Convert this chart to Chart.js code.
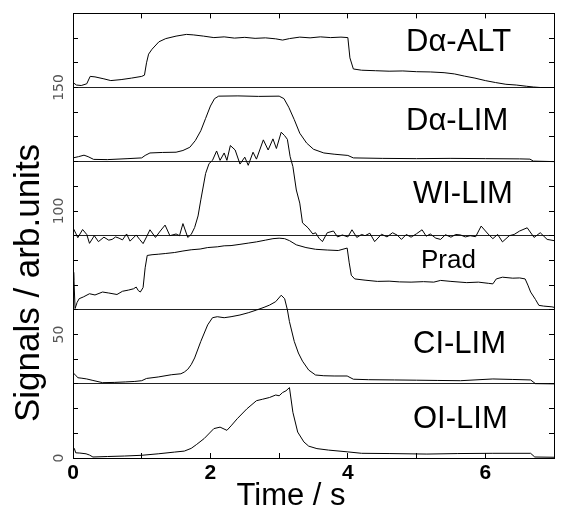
<!DOCTYPE html>
<html>
<head>
<meta charset="utf-8">
<script src="https://cdn.jsdelivr.net/npm/chart.js@4.4.1/dist/chart.umd.min.js"></script>
<style>
  html, body { margin: 0; padding: 0; background: #fff; }
</style>
</head>
<body>
<canvas id="signalsChart" width="562" height="510"></canvas>
<script>
// Signal traces (time in s, signal in arb. units, offset baselines)
var daAltT = [0, 0.05, 0.12, 0.2, 0.25, 0.32, 0.45, 0.55, 0.7, 0.85, 1.0, 1.04, 1.07, 1.1, 1.15, 1.25, 1.35, 1.5, 1.65, 1.75, 1.9, 2.05, 2.2, 2.35, 2.5, 2.65, 2.8, 2.95, 3.05, 3.15, 3.3, 3.45, 3.6, 3.75, 3.9, 4.0, 4.03, 4.08, 4.2, 4.4, 4.6, 4.8, 5.0, 5.2, 5.4, 5.55, 5.7, 5.85, 6.0, 6.15, 6.3, 6.45, 6.6, 6.7, 6.8, 7.0];
var daAltV = [152, 151, 150.8, 151.5, 154.5, 154.3, 153.5, 152.8, 153.2, 153.8, 154.5, 155, 160, 163.5, 165.5, 168.5, 169.8, 170.8, 171.5, 171.3, 170.8, 170.2, 170.5, 170, 170.3, 169.9, 170.1, 169.7, 169.2, 169.8, 170.4, 170.1, 170.5, 170.2, 170.4, 170.2, 162, 157.5, 157, 156.8, 156.6, 156.7, 156.4, 156.3, 156, 155.5, 154.6, 153.8, 152.8, 152, 151.3, 151, 150.5, 150.2, 150, 150];

var daLimT = [0, 0.08, 0.16, 0.22, 0.3, 0.5, 0.8, 1.0, 1.05, 1.12, 1.3, 1.5, 1.6, 1.7, 1.78, 1.86, 1.93, 2.0, 2.06, 2.12, 2.4, 2.7, 3.0, 3.07, 3.14, 3.22, 3.3, 3.4, 3.5, 3.65, 3.8, 4.0, 4.08, 4.5, 5.0, 5.5, 6.0, 6.5, 6.65, 6.7, 7.0];
var daLimV = [121.5, 122, 122.6, 122, 120.9, 120.8, 121.2, 121.5, 122.5, 123.5, 123.7, 123.8, 124.5, 125.8, 128.5, 132.5, 137.5, 142.5, 145.5, 146.5, 146.6, 146.4, 146.5, 145.5, 142, 137, 131.5, 127.5, 125, 123.5, 123, 122.5, 121.5, 121.3, 121.2, 121.3, 121.2, 121.1, 121, 120.2, 120];

var wiLimT = [0, 0.04, 0.07, 0.14, 0.2, 0.24, 0.31, 0.37, 0.45, 0.52, 0.57, 0.62, 0.67, 0.72, 0.78, 0.83, 0.92, 0.97, 1.02, 1.07, 1.12, 1.2, 1.27, 1.34, 1.41, 1.5, 1.55, 1.6, 1.67, 1.72, 1.77, 1.82, 1.86, 1.93, 1.98, 2.03, 2.09, 2.14, 2.2, 2.24, 2.29, 2.36, 2.43, 2.5, 2.55, 2.62, 2.67, 2.77, 2.84, 2.91, 2.96, 3.03, 3.08, 3.12, 3.16, 3.2, 3.25, 3.3, 3.34, 3.42, 3.49, 3.53, 3.58, 3.63, 3.7, 3.79, 3.85, 3.92, 4.0, 4.06, 4.13, 4.2, 4.25, 4.32, 4.39, 4.49, 4.57, 4.65, 4.72, 4.78, 4.85, 4.92, 5.0, 5.08, 5.14, 5.2, 5.28, 5.35, 5.42, 5.5, 5.57, 5.64, 5.71, 5.78, 5.86, 5.94, 6.04, 6.11, 6.18, 6.25, 6.35, 6.42, 6.5, 6.61, 6.71, 6.8, 6.9, 7.0];
var wiLimV = [93.2, 91, 89.2, 92.5, 90.5, 86.9, 90, 87.6, 89.4, 88.2, 88.5, 89.5, 89, 88.3, 90.7, 87.8, 90.3, 88.5, 86.8, 89.5, 92.4, 89.3, 91.9, 94.3, 90, 90.7, 90, 94.9, 89.3, 90.5, 93.3, 98, 104.5, 115.2, 119.2, 120.5, 124.3, 120.5, 123.5, 120.5, 126.5, 124.7, 119, 121.8, 118.5, 123.8, 121, 128.8, 124.7, 129.2, 125.3, 131.9, 130.5, 129, 122, 118, 108.5, 103.2, 95.2, 93.2, 90.7, 91.2, 89, 87.6, 91.2, 91.9, 89.5, 90.3, 89.5, 92.4, 89.3, 90.5, 90, 91, 87.6, 90.6, 89.5, 91.2, 90.2, 88.5, 90.5, 89.4, 90.8, 92.4, 89.8, 90.7, 89, 88.5, 90.4, 89.4, 90.5, 90.3, 89.5, 90, 89.6, 93.9, 90.7, 88.8, 90.5, 87.5, 90, 90.5, 91.9, 93.2, 89.3, 91.2, 88.5, 88];

var pradT = [0, 0.01, 0.03, 0.06, 0.09, 0.15, 0.24, 0.32, 0.43, 0.52, 0.64, 0.72, 0.81, 0.88, 0.92, 0.95, 0.98, 1.02, 1.05, 1.08, 1.15, 1.24, 1.35, 1.48, 1.6, 1.72, 1.85, 1.96, 2.1, 2.2, 2.3, 2.43, 2.55, 2.67, 2.8, 2.91, 3.0, 3.08, 3.15, 3.25, 3.39, 3.53, 3.7, 3.86, 3.99, 4.02, 4.05, 4.1, 4.25, 4.43, 4.6, 4.75, 4.92, 5.1, 5.25, 5.35, 5.5, 5.73, 5.9, 6.05, 6.11, 6.16, 6.25, 6.4, 6.5, 6.58, 6.62, 6.66, 6.73, 6.78, 6.85, 6.97, 7.0];
var pradV = [72, 75.2, 60.5, 63, 64.5, 65.2, 66.5, 66, 67.2, 66.8, 66.2, 67.5, 68, 68.5, 69.2, 67.8, 67.2, 69, 77, 82, 82.3, 82.5, 82.8, 83.2, 83.8, 84.3, 84.6, 85.2, 85.5, 85.9, 86, 86.5, 87, 87.5, 88.2, 88.8, 89, 88.8, 88, 86.3, 85.2, 84.5, 84.2, 84, 85, 79, 74, 72.5, 72, 71.5, 71.6, 71.3, 71.2, 71.4, 71.2, 71.9, 71.5, 71, 71.2, 70.7, 70.5, 72.5, 73.2, 72.8, 72.9, 72.5, 70, 67.2, 64.2, 61.8, 61.5, 61.2, 61];

var ciLimT = [0, 0.04, 0.07, 0.13, 0.2, 0.29, 0.43, 0.6, 0.76, 0.9, 1.0, 1.07, 1.24, 1.43, 1.57, 1.62, 1.67, 1.72, 1.77, 1.86, 1.96, 2.03, 2.1, 2.2, 2.3, 2.43, 2.55, 2.67, 2.78, 2.86, 2.95, 3.03, 3.08, 3.12, 3.15, 3.22, 3.28, 3.34, 3.43, 3.53, 3.65, 3.8, 3.99, 4.08, 4.3, 4.68, 5.0, 5.3, 5.64, 6.11, 6.4, 6.66, 6.73, 7.0];
var ciLimV = [34.5, 33.5, 32.5, 32.3, 32, 31.4, 30.5, 30.6, 30.8, 31, 31.3, 32.2, 32.8, 33.7, 34.1, 34.8, 35.9, 37.8, 40.5, 47.2, 53.9, 56.8, 57.2, 56.8, 57.2, 57.9, 58.8, 59.9, 61, 61.9, 63.3, 65.9, 64.5, 60, 55.2, 47.2, 42.5, 39.2, 35.6, 33.6, 33.3, 33.2, 33.2, 31.9, 31.7, 31.6, 31.5, 31.4, 31.3, 32, 31.8, 31.6, 30.1, 30];

var oiLimT = [0, 0.02, 0.04, 0.1, 0.19, 0.24, 0.29, 0.5, 0.75, 1.0, 1.24, 1.48, 1.62, 1.72, 1.8, 1.91, 2.05, 2.14, 2.24, 2.3, 2.39, 2.53, 2.67, 2.76, 2.86, 2.95, 3.0, 3.05, 3.1, 3.15, 3.2, 3.27, 3.36, 3.43, 3.55, 3.72, 3.99, 4.2, 4.6, 5.15, 5.6, 6.11, 6.66, 6.72, 7.0];
var oiLimV = [4.5, 3.8, 2.1, 2, 1.7, 1.2, 0.4, 0.6, 0.8, 1.1, 1.7, 2.4, 2.8, 3.9, 5.5, 7.9, 11.9, 12.5, 11.2, 13, 15.9, 19.9, 23.2, 23.8, 24.5, 25.5, 25.2, 26.5, 27.2, 28.5, 18.5, 10.5, 6.5, 4.8, 3.8, 3.2, 2.5, 1.9, 1.8, 1.6, 1.8, 1.9, 1.9, 0.4, 0.3];

var panelNames = ['D\u03b1-ALT', 'D\u03b1-LIM', 'WI-LIM', 'Prad', 'CI-LIM', 'OI-LIM'];
var panelBaselines = [150, 120, 90, 60, 30, 0];
var xTickLabels = [0, 2, 4, 6];
var yTickLabels = [0, 50, 100, 150];

function toPoints(ts, vs) {
    return ts.map(function(t, i) { return { x: t, y: vs[i] }; });
}

function trace(ts, vs) {
    return {
        data: toPoints(ts, vs),
        borderColor: '#000',
        borderWidth: 1,
        pointRadius: 0,
        fill: false,
        tension: 0
    };
}

// panel names and axis titles, placed like in the figure
var textPlugin = {
    id: 'panelText',
    afterDraw: function(chart) {
        var ctx = chart.ctx;
        var spots = [[406, 51, 31], [406, 130, 31], [413, 203, 31], [421, 268, 26], [413, 353, 31], [413, 428, 31]];
        ctx.save();
        ctx.fillStyle = '#000';
        ctx.textAlign = 'left';
        ctx.textBaseline = 'alphabetic';
        panelNames.forEach(function(name, i) {
            ctx.font = spots[i][2] + 'px "Liberation Sans", Arial, sans-serif';
            ctx.fillText(name, spots[i][0], spots[i][1]);
        });

        ctx.textAlign = 'center';
        ctx.font = '31px "Liberation Sans", Arial, sans-serif';
        ctx.fillText('Time / s', 291, 505);

        ctx.translate(39, 283);
        ctx.rotate(-Math.PI / 2);
        ctx.font = '35px "Liberation Sans", Arial, sans-serif';
        ctx.fillText('Signals / arb.units', 0, 0);
        ctx.restore();
    }
};

var ctx = document.getElementById('signalsChart').getContext('2d');
var signalsChart = new Chart(ctx, {
    type: 'line',
    data: {
        datasets: [
            trace(daAltT, daAltV),
            trace(daLimT, daLimV),
            trace(wiLimT, wiLimV),
            trace(pradT, pradV),
            trace(ciLimT, ciLimV),
            trace(oiLimT, oiLimV)
        ]
    },
    options: {
        responsive: false,
        animation: false,
        devicePixelRatio: 1,
        layout: { padding: 0 },
        plugins: {
            legend: { display: false },
            tooltip: { enabled: false }
        },
        scales: {
            x: {
                type: 'linear',
                position: 'bottom',
                min: 0,
                max: 7,
                ticks: {
                    stepSize: 1,
                    autoSkip: false,
                    maxRotation: 0,
                    padding: 8,
                    color: '#000',
                    font: { family: '"Liberation Sans", Arial, sans-serif', size: 21, weight: 'bold' },
                    callback: function(v) { return xTickLabels.indexOf(v) >= 0 ? String(v) : ''; }
                },
                grid: { drawOnChartArea: false, tickLength: -5, tickColor: '#000' },
                border: { color: '#000' },
                afterFit: function(scale) { scale.height = 52; }
            },
            x2: {
                type: 'linear',
                position: 'top',
                min: 0,
                max: 7,
                ticks: { stepSize: 1, display: false },
                grid: { drawOnChartArea: false, tickLength: -5, tickColor: '#000' },
                border: { color: '#000' },
                afterFit: function(scale) { scale.height = 8; }
            },
            y: {
                type: 'linear',
                position: 'left',
                min: 0,
                max: 180,
                ticks: {
                    stepSize: 10,
                    autoSkip: false,
                    minRotation: 90,
                    maxRotation: 90,
                    crossAlign: 'center',
                    padding: 5,
                    color: '#555',
                    font: { family: '"DejaVu Sans", sans-serif', size: 14 },
                    callback: function(v) { return yTickLabels.indexOf(v) >= 0 ? String(v) : ''; }
                },
                grid: {
                    color: function(c) {
                        return (c.tick && panelBaselines.indexOf(c.tick.value) >= 0) ? '#222' : 'rgba(0,0,0,0)';
                    },
                    tickColor: '#000',
                    tickLength: -5
                },
                border: { color: '#000' },
                afterFit: function(scale) { scale.width = 73; }
            },
            y2: {
                type: 'linear',
                position: 'right',
                min: 0,
                max: 180,
                ticks: { stepSize: 10, display: false },
                grid: { drawOnChartArea: false, tickLength: -5, tickColor: '#000' },
                border: { color: '#000' },
                afterFit: function(scale) { scale.width = 1; }
            }
        }
    },
    plugins: [textPlugin]
});
</script>
</body>
</html>
